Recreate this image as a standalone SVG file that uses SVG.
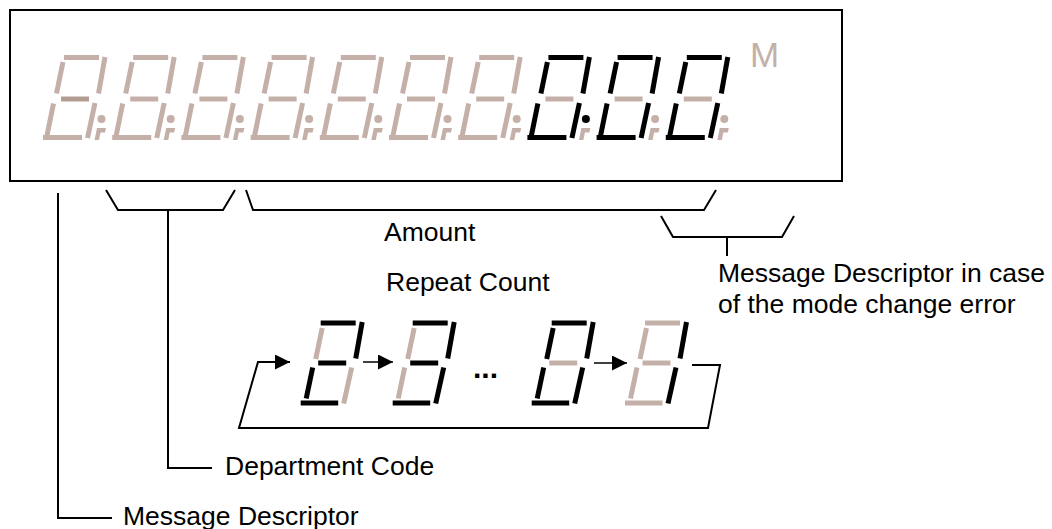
<svg xmlns="http://www.w3.org/2000/svg" width="1052" height="529" viewBox="0 0 1052 529">
<style>
  .seg{stroke-width:5;stroke-linecap:butt;fill:none}
  .off{stroke:#c4b0a8}
  .on{stroke:#000}
  .dim{stroke:#b39c92}
  .dotoff{fill:#c4b0a8}
  .doton{fill:#000}
  .ln{stroke:#000;stroke-width:2;fill:none}
  .thin{stroke:#000;stroke-width:1.5;fill:none}
  .lbl{font-family:"Liberation Sans",Arial,sans-serif;font-size:26.5px;fill:#000}
</style>
<defs>
  <marker id="ah" markerUnits="userSpaceOnUse" markerWidth="15" markerHeight="15" refX="15" refY="7.5" orient="auto">
    <path d="M0,0 L15,7.5 L0,15 Z" fill="#000"/>
  </marker>
  <polygon id="tail" points="33,70.5 42,70.5 41,75 36.5,75 35,82.5 30.5,82.5"/>
</defs>

<g id="display">
  <rect x="10" y="10" width="832" height="171" fill="#fff" stroke="#000" stroke-width="2"/>
  <g id="d0" transform="translate(64,57.5)">
    <line class="seg off" x1="0" y1="0" x2="35" y2="0"/><line class="seg off" x1="41" y1="-0.5" x2="34.5" y2="36"/><line class="seg off" x1="-1" y1="4.5" x2="-7.5" y2="36"/><line class="seg dim" x1="-3" y1="41.5" x2="25" y2="41.5"/><line class="seg off" x1="-10.5" y1="46" x2="-17" y2="78"/><line class="seg off" x1="31" y1="45.5" x2="23.5" y2="80.5"/><line class="seg off" x1="-21" y1="80" x2="18" y2="80"/>
    <circle class="dotoff" cx="37.5" cy="61.5" r="4"/><use href="#tail" class="dotoff"/>
  </g>
  <g id="d1" transform="translate(133.2,57.5)">
    <line class="seg off" x1="0" y1="0" x2="35" y2="0"/><line class="seg off" x1="41" y1="-0.5" x2="34.5" y2="36"/><line class="seg off" x1="-1" y1="4.5" x2="-7.5" y2="36"/><line class="seg off" x1="-3" y1="41.5" x2="25" y2="41.5"/><line class="seg off" x1="-10.5" y1="46" x2="-17" y2="78"/><line class="seg off" x1="31" y1="45.5" x2="23.5" y2="80.5"/><line class="seg off" x1="-21" y1="80" x2="18" y2="80"/>
    <circle class="dotoff" cx="37.5" cy="61.5" r="4"/><use href="#tail" class="dotoff"/>
  </g>
  <g id="d2" transform="translate(202.4,57.5)">
    <line class="seg off" x1="0" y1="0" x2="35" y2="0"/><line class="seg off" x1="41" y1="-0.5" x2="34.5" y2="36"/><line class="seg off" x1="-1" y1="4.5" x2="-7.5" y2="36"/><line class="seg off" x1="-3" y1="41.5" x2="25" y2="41.5"/><line class="seg off" x1="-10.5" y1="46" x2="-17" y2="78"/><line class="seg off" x1="31" y1="45.5" x2="23.5" y2="80.5"/><line class="seg off" x1="-21" y1="80" x2="18" y2="80"/>
    <circle class="dotoff" cx="37.5" cy="61.5" r="4"/><use href="#tail" class="dotoff"/>
  </g>
  <g id="d3" transform="translate(271.6,57.5)">
    <line class="seg off" x1="0" y1="0" x2="35" y2="0"/><line class="seg off" x1="41" y1="-0.5" x2="34.5" y2="36"/><line class="seg off" x1="-1" y1="4.5" x2="-7.5" y2="36"/><line class="seg off" x1="-3" y1="41.5" x2="25" y2="41.5"/><line class="seg off" x1="-10.5" y1="46" x2="-17" y2="78"/><line class="seg off" x1="31" y1="45.5" x2="23.5" y2="80.5"/><line class="seg off" x1="-21" y1="80" x2="18" y2="80"/>
    <circle class="dotoff" cx="37.5" cy="61.5" r="4"/><use href="#tail" class="dotoff"/>
  </g>
  <g id="d4" transform="translate(340.8,57.5)">
    <line class="seg off" x1="0" y1="0" x2="35" y2="0"/><line class="seg off" x1="41" y1="-0.5" x2="34.5" y2="36"/><line class="seg off" x1="-1" y1="4.5" x2="-7.5" y2="36"/><line class="seg off" x1="-3" y1="41.5" x2="25" y2="41.5"/><line class="seg off" x1="-10.5" y1="46" x2="-17" y2="78"/><line class="seg off" x1="31" y1="45.5" x2="23.5" y2="80.5"/><line class="seg off" x1="-21" y1="80" x2="18" y2="80"/>
    <circle class="dotoff" cx="37.5" cy="61.5" r="4"/><use href="#tail" class="dotoff"/>
  </g>
  <g id="d5" transform="translate(410,57.5)">
    <line class="seg off" x1="0" y1="0" x2="35" y2="0"/><line class="seg off" x1="41" y1="-0.5" x2="34.5" y2="36"/><line class="seg off" x1="-1" y1="4.5" x2="-7.5" y2="36"/><line class="seg off" x1="-3" y1="41.5" x2="25" y2="41.5"/><line class="seg off" x1="-10.5" y1="46" x2="-17" y2="78"/><line class="seg off" x1="31" y1="45.5" x2="23.5" y2="80.5"/><line class="seg off" x1="-21" y1="80" x2="18" y2="80"/>
    <circle class="dotoff" cx="37.5" cy="61.5" r="4"/><use href="#tail" class="dotoff"/>
  </g>
  <g id="d6" transform="translate(479.2,57.5)">
    <line class="seg off" x1="0" y1="0" x2="35" y2="0"/><line class="seg off" x1="41" y1="-0.5" x2="34.5" y2="36"/><line class="seg off" x1="-1" y1="4.5" x2="-7.5" y2="36"/><line class="seg off" x1="-3" y1="41.5" x2="25" y2="41.5"/><line class="seg off" x1="-10.5" y1="46" x2="-17" y2="78"/><line class="seg off" x1="31" y1="45.5" x2="23.5" y2="80.5"/><line class="seg off" x1="-21" y1="80" x2="18" y2="80"/>
    <circle class="dotoff" cx="37.5" cy="61.5" r="4"/><use href="#tail" class="dotoff"/>
  </g>
  <g id="d7" transform="translate(548.4,57.5)">
    <line class="seg on" x1="0" y1="0" x2="35" y2="0"/><line class="seg on" x1="41" y1="-0.5" x2="34.5" y2="36"/><line class="seg on" x1="-1" y1="4.5" x2="-7.5" y2="36"/><line class="seg off" x1="-3" y1="41.5" x2="25" y2="41.5"/><line class="seg on" x1="-10.5" y1="46" x2="-17" y2="78"/><line class="seg on" x1="31" y1="45.5" x2="23.5" y2="80.5"/><line class="seg on" x1="-21" y1="80" x2="18" y2="80"/>
    <circle class="doton" cx="37.5" cy="61.5" r="4"/><use href="#tail" class="dotoff"/>
  </g>
  <g id="d8" transform="translate(617.6,57.5)">
    <line class="seg on" x1="0" y1="0" x2="35" y2="0"/><line class="seg on" x1="41" y1="-0.5" x2="34.5" y2="36"/><line class="seg on" x1="-1" y1="4.5" x2="-7.5" y2="36"/><line class="seg off" x1="-3" y1="41.5" x2="25" y2="41.5"/><line class="seg on" x1="-10.5" y1="46" x2="-17" y2="78"/><line class="seg on" x1="31" y1="45.5" x2="23.5" y2="80.5"/><line class="seg on" x1="-21" y1="80" x2="18" y2="80"/>
    <circle class="dotoff" cx="37.5" cy="61.5" r="4"/><use href="#tail" class="dotoff"/>
  </g>
  <g id="d9" transform="translate(686.8,57.5)">
    <line class="seg on" x1="0" y1="0" x2="35" y2="0"/><line class="seg on" x1="41" y1="-0.5" x2="34.5" y2="36"/><line class="seg on" x1="-1" y1="4.5" x2="-7.5" y2="36"/><line class="seg off" x1="-3" y1="41.5" x2="25" y2="41.5"/><line class="seg on" x1="-10.5" y1="46" x2="-17" y2="78"/><line class="seg on" x1="31" y1="45.5" x2="23.5" y2="80.5"/><line class="seg on" x1="-21" y1="80" x2="18" y2="80"/>
    <circle class="dotoff" cx="37.5" cy="61.5" r="4"/><use href="#tail" class="dotoff"/>
  </g>
  <text id="mode" x="750" y="67" font-family="Liberation Sans, Arial, sans-serif" font-size="35" fill="#c4b0a8">M</text>
</g>

<g id="cycle">
  <g id="c0" transform="translate(320.7,323)">
    <line class="seg on" x1="0" y1="0" x2="35" y2="0"/><line class="seg on" x1="41.5" y1="-1" x2="35" y2="35.5"/><line class="seg off" x1="1.5" y1="5" x2="-5" y2="36"/><line class="seg on" x1="-2.5" y1="40" x2="25.5" y2="40"/><line class="seg on" x1="-8" y1="44.5" x2="-14.5" y2="75.5"/><line class="seg off" x1="31" y1="44.5" x2="23" y2="80.5"/><line class="seg on" x1="-20" y1="80" x2="17.5" y2="80"/>
  </g>
  <g id="c1" transform="translate(412.7,323)">
    <line class="seg on" x1="0" y1="0" x2="35" y2="0"/><line class="seg on" x1="41.5" y1="-1" x2="35" y2="35.5"/><line class="seg off" x1="1.5" y1="5" x2="-5" y2="36"/><line class="seg on" x1="-2.5" y1="40" x2="25.5" y2="40"/><line class="seg off" x1="-8" y1="44.5" x2="-14.5" y2="75.5"/><line class="seg on" x1="31" y1="44.5" x2="23" y2="80.5"/><line class="seg on" x1="-20" y1="80" x2="17.5" y2="80"/>
  </g>
  <text id="ellipsis" x="473" y="378" font-family="Liberation Sans, Arial, sans-serif" font-size="30" font-weight="bold" fill="#000">...</text>
  <g id="c2" transform="translate(551.7,323)">
    <line class="seg on" x1="0" y1="0" x2="35" y2="0"/><line class="seg on" x1="41.5" y1="-1" x2="35" y2="35.5"/><line class="seg on" x1="1.5" y1="5" x2="-5" y2="36"/><line class="seg off" x1="-2.5" y1="40" x2="25.5" y2="40"/><line class="seg on" x1="-8" y1="44.5" x2="-14.5" y2="75.5"/><line class="seg on" x1="31" y1="44.5" x2="23" y2="80.5"/><line class="seg on" x1="-20" y1="80" x2="17.5" y2="80"/>
  </g>
  <g id="c3" transform="translate(645,323)">
    <line class="seg off" x1="0" y1="0" x2="35" y2="0"/><line class="seg on" x1="41.5" y1="-1" x2="35" y2="35.5"/><line class="seg off" x1="1.5" y1="5" x2="-5" y2="36"/><line class="seg off" x1="-2.5" y1="40" x2="25.5" y2="40"/><line class="seg off" x1="-8" y1="44.5" x2="-14.5" y2="75.5"/><line class="seg on" x1="31" y1="44.5" x2="23" y2="80.5"/><line class="seg off" x1="-20" y1="80" x2="17.5" y2="80"/>
  </g>
</g>

<g id="connectors">
  <polyline class="ln" points="106,190 118,210 223,210 235,190"/>
  <polyline class="ln" points="246,190 253,210 704,210 716,190"/>
  <polyline class="ln" points="661,216 673,237 782,237 794,216"/>
  <line class="ln" x1="727" y1="237" x2="727" y2="256"/>
  <polyline class="ln" points="168,210 168,468 212,468"/>
  <polyline class="ln" points="58,193 58,518 112,518"/>
  <polyline class="ln" points="692,365 720,365 708,428 239,428 258,362 290,362" marker-end="url(#ah)"/>
  <line class="thin" x1="363" y1="362" x2="393" y2="362" marker-end="url(#ah)"/>
  <line class="thin" x1="594" y1="363" x2="627" y2="363" marker-end="url(#ah)"/>
</g>

<g id="labels">
  <text class="lbl" x="384" y="241">Amount</text>
  <text class="lbl" x="386" y="291">Repeat Count</text>
  <text class="lbl" x="718" y="282">Message Descriptor in case</text>
  <text class="lbl" x="718" y="313">of the mode change error</text>
  <text class="lbl" x="225" y="475">Department Code</text>
  <text class="lbl" x="123" y="525">Message Descriptor</text>
</g>
</svg>
